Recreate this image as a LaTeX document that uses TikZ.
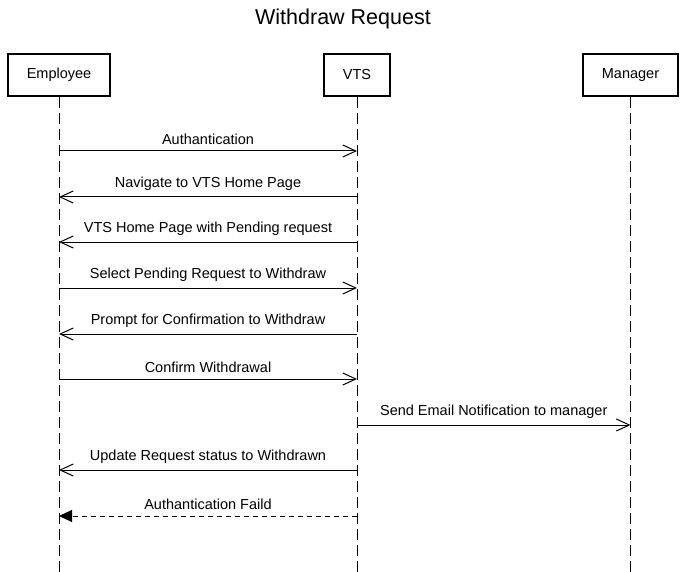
\documentclass[tikz,border=0pt]{standalone}
\usepackage{fontspec}
\setmainfont{Liberation Sans}
\usetikzlibrary{positioning,arrows.meta}

\begin{document}
\begin{tikzpicture}[x=1pt,y=1pt,
	actor/.style={draw,line width=2pt,minimum height=42pt,
		font=\fontsize{14.5}{16}\selectfont},
	life/.style={dash pattern=on 11pt off 5pt,line width=1pt},
	msg/.style={-{Straight Barb[length=13pt,width=12pt]},line width=1pt},
	reply/.style={-{Triangle[length=13pt,width=12pt]},line width=1pt,
		dash pattern=on 5pt off 4pt},
	lbl/.style={above=3pt,font=\fontsize{14.5}{16}\selectfont}]
	\useasboundingbox (0,0) rectangle (685,-572);
	\node[font=\fontsize{21.5}{24}\selectfont] (title) at (343,-19) {Withdraw Request};
	\node[actor,minimum width=102pt] (Emp) at (59,-75) {Employee};
	\node[actor,minimum width=66pt] (VTS) at (357,-75) {VTS};
	\node[actor,minimum width=95pt] (Mgr) at (630.5,-75) {Manager};

	% lifelines
	\coordinate (EmpEnd) at (Emp.south |- 0,-572);
	\coordinate (VTSEnd) at (VTS.south |- 0,-572);
	\coordinate (MgrEnd) at (Mgr.south |- 0,-572);
	\draw[life] (Emp.south) -- (EmpEnd);
	\draw[life] (VTS.south) -- (VTSEnd);
	\draw[life] (Mgr.south) -- (MgrEnd);

	% messages
	\draw[msg] ([yshift=-54]Emp.south) -- node[lbl]{Authantication} ([yshift=-54]VTS.south);
	\draw[msg] ([yshift=-100]VTS.south) -- node[lbl]{Navigate to VTS Home Page} ([yshift=-100]Emp.south);
	\draw[msg] ([yshift=-145]VTS.south) -- node[lbl]{VTS Home Page with Pending request} ([yshift=-145]Emp.south);
	\draw[msg] ([yshift=-191]Emp.south) -- node[lbl]{Select Pending Request to Withdraw} ([yshift=-191]VTS.south);
	\draw[msg] ([yshift=-237]VTS.south) -- node[lbl]{Prompt for Confirmation to Withdraw} ([yshift=-237]Emp.south);
	\draw[msg] ([yshift=-282]Emp.south) -- node[lbl]{Confirm Withdrawal} ([yshift=-282]VTS.south);
	\draw[msg] ([yshift=-328]VTS.south) -- node[lbl]{Send Email Notification to manager} ([yshift=-328]Mgr.south);
	\draw[msg] ([yshift=-373]VTS.south) -- node[lbl]{Update Request status to Withdrawn} ([yshift=-373]Emp.south);
	\draw[reply] ([yshift=-419]VTS.south) -- node[lbl]{Authantication Faild} ([yshift=-419]Emp.south);
\end{tikzpicture}
\end{document}
